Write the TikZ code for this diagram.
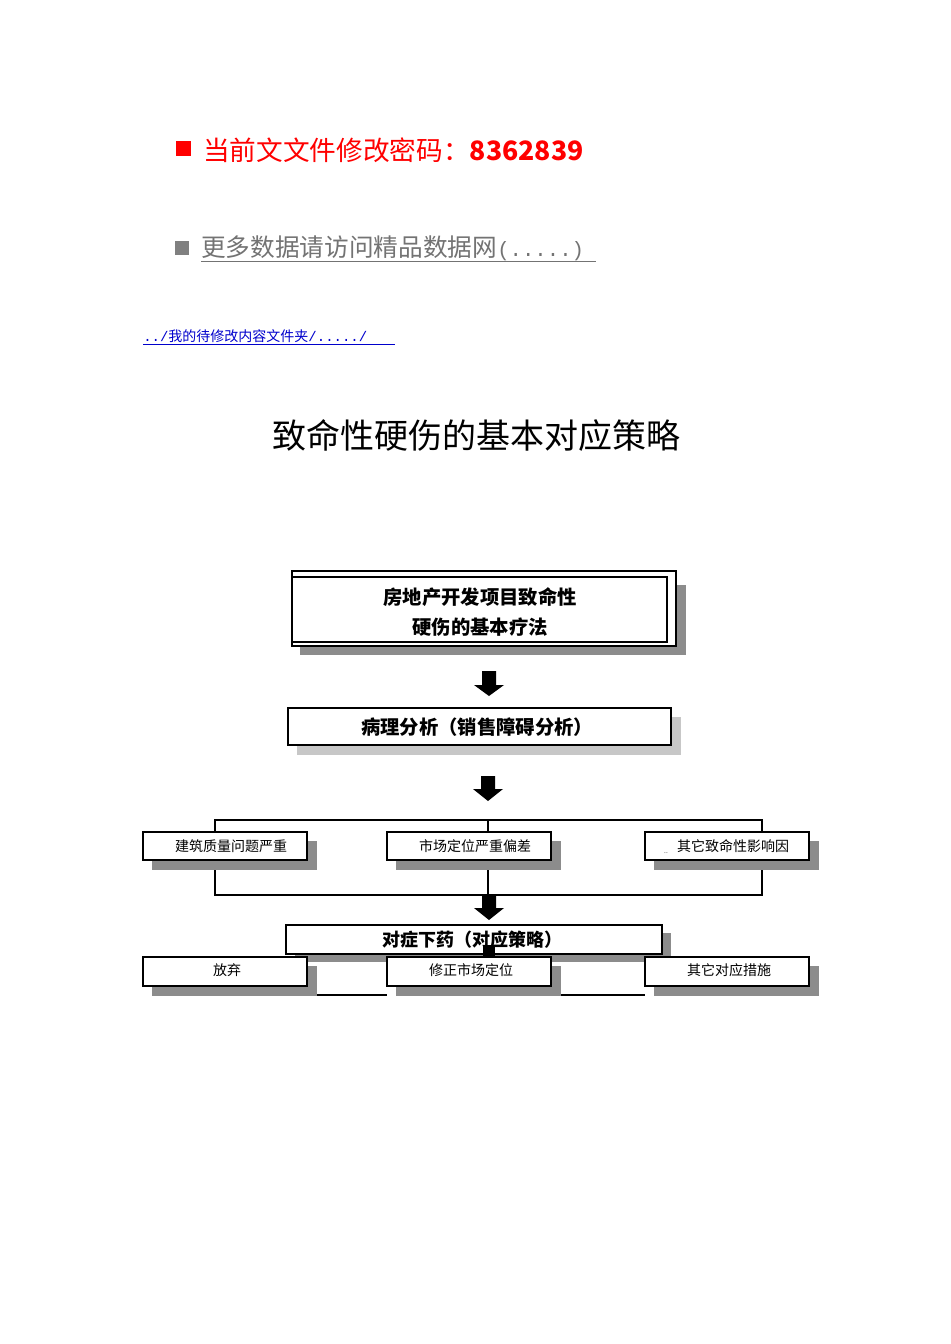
\documentclass[tikz,border=0pt]{standalone}
\usepackage{fontspec}
\setmainfont{Noto Sans CJK SC}
\newfontfamily\monof{Liberation Mono}
\begin{document}
\begin{tikzpicture}[x=0.75pt,y=-0.75pt,
  fr/.style={draw=black,line width=0.9pt,fill=white},
  shd/.style={fill=black!45},
  lshd/.style={fill=black!22},
  ln/.style={draw=black,line width=0.8pt},
  barrow/.style={fill=black}]
\useasboundingbox (0,0) rectangle (950,1344);
% header
\fill[red] (176,141) rectangle (191,156);
\node[anchor=west,text=red,font=\fontsize{20}{22}\selectfont,inner sep=0] (h1) at (203,150) {当前文文件修改密码：\textbf{8362839}};
\fill[black!50] (175,241) rectangle (189,255);
\node[anchor=west,text=black!55,font=\fontsize{18.5}{20}\selectfont,inner sep=0] (h2) at (201,248) {更多数据请访问精品数据网{\monof\fontsize{15.5}{18}\selectfont(.....)}};
\draw[black!55,line width=0.7pt] (201,261) -- (596,261);
\node[anchor=west,text=blue!80!black,font=\fontsize{10.5}{12}\selectfont,inner sep=0] (h3) at (143,336) {{\monof ../}我的待修改内容文件夹{\monof /...../}};
\draw[blue!80!black,line width=0.6pt] (143,344) -- (395,344);
\node[font=\fontsize{25.5}{28}\selectfont,inner sep=0] (title) at (476,435) {致命性硬伤的基本对应策略};
% box 1
\fill[shd] (300,585) rectangle (686,655);
\draw[fr] (292,571) rectangle (676,646);
\draw[fr] (292,577) rectangle (667,642);
\node[align=center,font=\bfseries\fontsize{14.5}{23}\selectfont] (b1) at (480,612) {房地产开发项目致命性\\硬伤的基本疗法};
% arrow 1
\fill[barrow] (482,671) -- (496,671) -- (496,685) -- (504,685) -- (489,696) -- (474,685) -- (482,685) -- cycle;
% box 2
\fill[lshd] (297,717) rectangle (681,755);
\draw[fr] (288,708) rectangle (671,745);
\node[font=\bfseries\fontsize{14.5}{16}\selectfont] (b2) at (477,727) {病理分析（销售障碍分析）};
\fill[barrow] (481,776) -- (495,776) -- (495,789) -- (503,789) -- (488,801) -- (473,789) -- (481,789) -- cycle;
% three boxes
\foreach \x/\n/\t in {143/c1/建筑质量问题严重,387/c2/市场定位严重偏差,645/c3/{其它致命性影响因}}{
  \fill[shd] (\x+9,841) rectangle (\x+174,870);
  \draw[fr] (\x,832) rectangle (\x+164,860);
  \node[font=\fontsize{10.5}{12}\selectfont] (\n) at (\x+88,846) {\t};
}
\node[font=\tiny,inner sep=0] (dots) at (666,853) {..};
\coordinate (t1) at (215,820); \coordinate (t3) at (762,820);
\draw[ln] (215,832) -- (t1) -- (t3) -- (762,832);
\draw[ln] (488,820) -- (488,832);
\draw[ln] (215,870) -- (215,895) -- (762,895) -- (762,870);
\draw[ln] (488,870) -- (488,895);
% arrow 3
\fill[barrow] (482,896) -- (496,896) -- (496,908) -- (504,908) -- (489,920) -- (474,908) -- (482,908) -- cycle;
% box 4
\fill[shd] (295,933) rectangle (671,962);
\draw[fr] (286,925) rectangle (662,954);
\node[font=\bfseries\fontsize{13.5}{15}\selectfont] (b4) at (472,940) {对症下药（对应策略）};
% bottom boxes
\draw[ln] (307,995) -- (387,995);
\draw[ln] (551,995) -- (645,995);
\foreach \x/\n/\t in {143/d1/放弃,387/d2/修正市场定位,645/d3/其它对应措施}{
  \fill[shd] (\x+9,966) rectangle (\x+174,996);
  \draw[fr] (\x,957) rectangle (\x+164,986);
  \node[font=\fontsize{10.5}{12}\selectfont] (\n) at (\x+84,970) {\t};
}
\fill[black] (483,945) rectangle (495,956);
\end{tikzpicture}
\end{document}
